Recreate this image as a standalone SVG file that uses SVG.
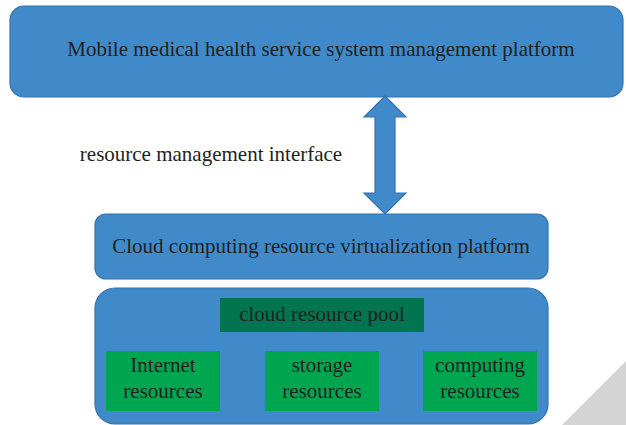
<svg xmlns="http://www.w3.org/2000/svg" width="626" height="425" viewBox="0 0 626 425">
<style>
.box{fill:#418ac9;stroke:#3272ad;stroke-width:1.2}
.t{font-family:"Liberation Serif","Times New Roman",serif;fill:#231f20;text-anchor:middle}
.big{font-size:21px}
.sm{font-size:21px}
.g{fill:#00a550}
</style>
<rect width="626" height="425" fill="#ffffff"/>
<polygon points="562,425 626,361 626,425" fill="#d4d4d4"/>
<g id="top">
<rect class="box" x="10" y="6" width="613" height="91" rx="14"/>
<text class="t big" x="321" y="56">Mobile medical health service system management platform</text>
</g>
<g id="connectors">
<polygon class="box" points="385,96 406,117 395,117 395,193 406,193 385,214 364,193 375,193 375,117 364,117"/>
<text class="t sm" x="211" y="161">resource management interface</text>
</g>
<g id="virt">
<rect class="box" x="95" y="214" width="453" height="65" rx="11"/>
<text class="t big" x="321" y="253">Cloud computing resource virtualization platform</text>
</g>
<g id="pool">
<rect class="box" x="95" y="288" width="453" height="136" rx="20"/>
<rect x="220" y="298" width="204" height="34" fill="#02744f"/>
<text class="t sm" x="322" y="321">cloud resource pool</text>
</g>
<g id="internet">
<rect class="g" x="106" y="351" width="114" height="60"/>
<text class="t sm" x="163" y="372">Internet</text>
<text class="t sm" x="163" y="398">resources</text>
</g>
<g id="storage">
<rect class="g" x="265" y="351" width="114" height="60"/>
<text class="t sm" x="322" y="372">storage</text>
<text class="t sm" x="322" y="398">resources</text>
</g>
<g id="computing">
<rect class="g" x="423" y="351" width="114" height="60"/>
<text class="t sm" x="480" y="372">computing</text>
<text class="t sm" x="480" y="398">resources</text>
</g>
</svg>
